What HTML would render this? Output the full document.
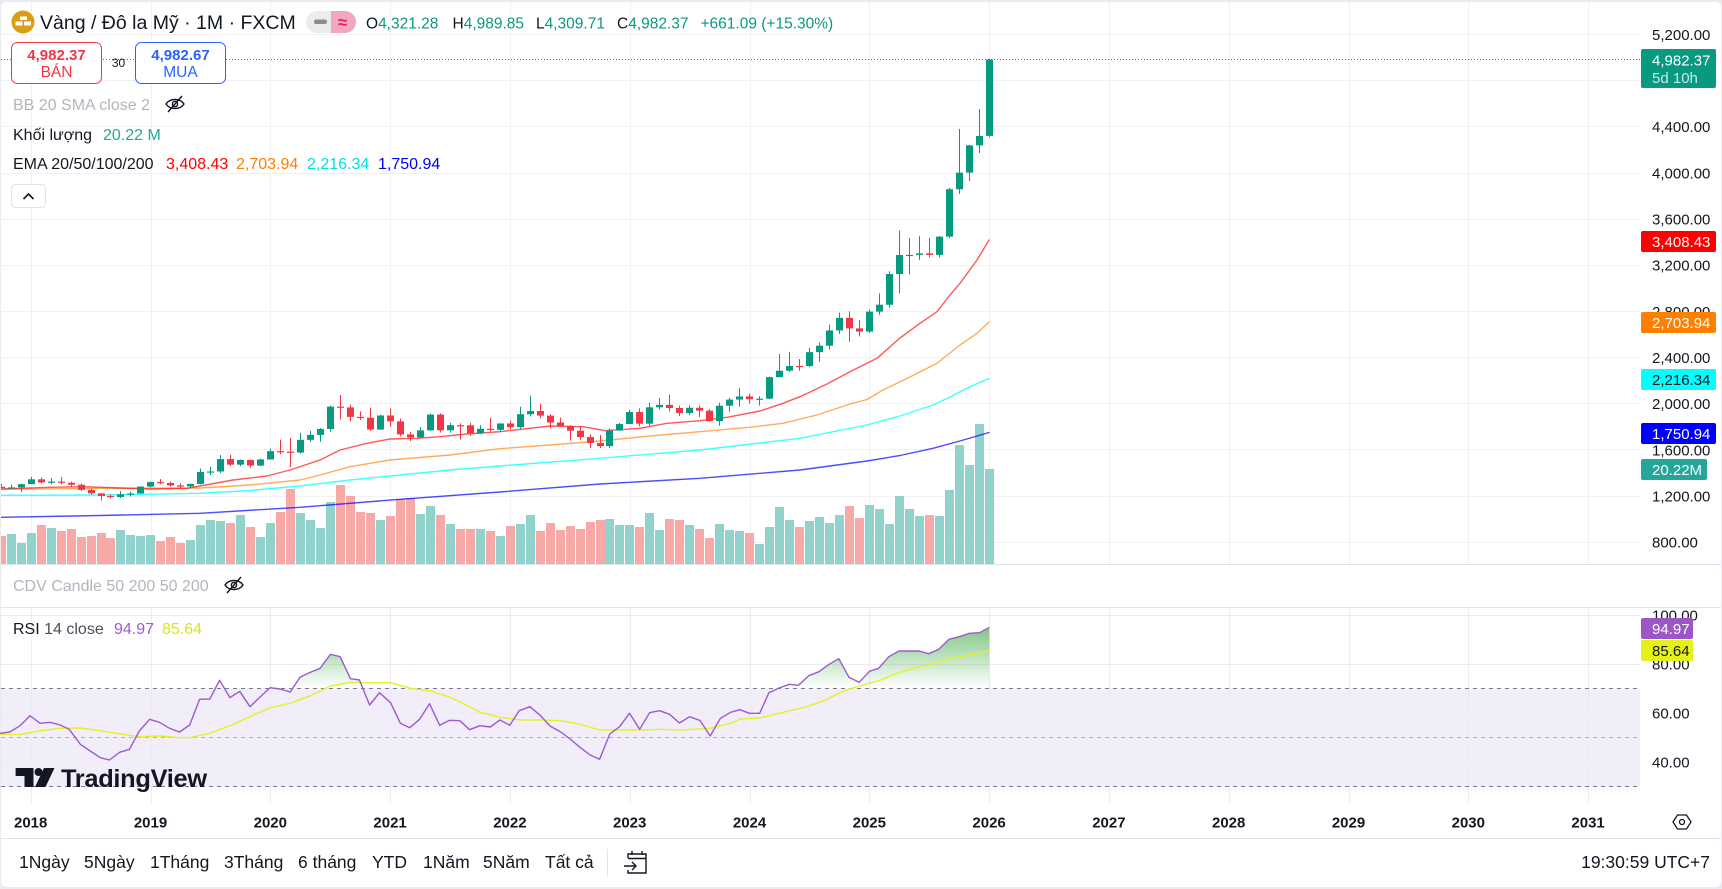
<!DOCTYPE html>
<html><head><meta charset="utf-8">
<style>
html,body{margin:0;padding:0;background:#fff;}
body{width:1722px;height:889px;overflow:hidden;position:relative;}
svg{position:absolute;left:0;top:0;}
text{font-family:"Liberation Sans","DejaVu Sans",sans-serif;}
</style></head><body>
<svg id="c" width="1722" height="889" viewBox="0 0 1722 889" xmlns="http://www.w3.org/2000/svg">
<defs>
 <linearGradient id="gf" gradientUnits="userSpaceOnUse" x1="0" y1="615" x2="0" y2="688.5">
  <stop offset="0" stop-color="#4caf50" stop-opacity="0.85"/>
  <stop offset="1" stop-color="#4caf50" stop-opacity="0"/>
 </linearGradient>
 <clipPath id="above70"><rect x="0" y="600" width="1640" height="88.5"/></clipPath>
 <clipPath id="pp"><rect x="1" y="2" width="1639" height="562"/></clipPath>
</defs>
<rect width="1722" height="889" fill="#e9ebef"/>
<rect x="1" y="2" width="1720" height="885" rx="5" fill="#fff"/>

<!-- price pane grid -->
<g stroke="#f0f1f4" stroke-width="1">
 <line x1="1" x2="1640" y1="34.5" y2="34.5"/><line x1="1" x2="1640" y1="80.5" y2="80.5"/>
 <line x1="1" x2="1640" y1="126.5" y2="126.5"/><line x1="1" x2="1640" y1="173.5" y2="173.5"/>
 <line x1="1" x2="1640" y1="219.5" y2="219.5"/><line x1="1" x2="1640" y1="265.5" y2="265.5"/>
 <line x1="1" x2="1640" y1="311.5" y2="311.5"/><line x1="1" x2="1640" y1="357.5" y2="357.5"/>
 <line x1="1" x2="1640" y1="403.5" y2="403.5"/><line x1="1" x2="1640" y1="449.5" y2="449.5"/>
 <line x1="1" x2="1640" y1="496.5" y2="496.5"/><line x1="1" x2="1640" y1="542.5" y2="542.5"/>
 <g id="vgrid1"></g>
</g>

<!-- volume, EMA, candles -->
<g clip-path="url(#pp)">
 <g id="vol"></g>
 <g fill="none" stroke-width="1.4" stroke-linejoin="round" stroke-linecap="round">
  <polyline stroke="#0000ff" stroke-opacity="0.7" points="0,517.3 100,515.5 200,513.3 300,507.3 400,499.3 500,492 600,484 700,478.3 800,470 867,461 900,455.5 933,448.3 960,441 989,432.5"/>
  <polyline stroke="#00ffff" stroke-opacity="0.75" points="0,495.3 100,495 200,493.3 250,490.5 300,486 350,480 400,475 450,470 500,466 600,458.3 700,450 800,438.3 867,425 900,416 933,405 947,398.5 970,386.7 989,378.5"/>
  <polyline stroke="#ff7f00" stroke-opacity="0.65" points="0,489.3 100,488.3 200,488 250,485 300,480 320,475 350,466.7 390,460 450,455 500,448.7 550,445 600,441 650,436 700,431.7 750,427.3 783,423.3 817,415 850,404 867,399.5 883,390 910,377 937,363.3 960,345 977,333.3 989,322"/>
  <polyline stroke="#ff0000" stroke-opacity="0.65" points="0,489 50,487.3 83,486.7 150,489 187,488.3 200,486 233,480 267,476 290,470 320,460 340,450 367,443.3 390,439 417,438.3 440,436.7 467,434 500,431.7 550,426 583,426.7 605,430.7 640,428.3 667,423.3 700,420.7 727,417.3 760,411 783,403.3 800,396.7 827,384 850,371.7 877,358.3 900,338 920,323.3 937,311.7 950,295 960,283.3 977,260 989,240"/>
 </g>
 <g id="cand"></g>
</g>

<!-- current price dotted line -->
<line x1="1" x2="1640" y1="59.5" y2="59.5" stroke="#089981" stroke-width="1" stroke-dasharray="1 2"/>

<!-- header -->
<circle cx="23" cy="22" r="11.5" fill="#d99e13"/>
<rect x="20" y="16.5" width="7" height="3.5" fill="#fff"/>
<rect x="15.5" y="21.5" width="7" height="4" fill="#fff"/>
<rect x="24" y="21.5" width="7" height="4" fill="#fff"/>
<text x="40" y="29" font-size="19.5" fill="#131722">Vàng / Đô la Mỹ · 1M · FXCM</text>
<rect x="306" y="11" width="50" height="22" rx="11" fill="#ececec"/>
<path d="M331,11 H345 A11,11 0 0 1 345,33 H331 Z" fill="#f2a6c2"/>
<rect x="314" y="19.5" width="13" height="4.5" rx="2" fill="#8a8d95"/>
<text x="342.5" y="28" font-size="17" font-weight="bold" fill="#e0245e" text-anchor="middle">≈</text>
<g font-size="15.5">
 <text x="366" y="28.3" fill="#131722">O<tspan fill="#089981">4,321.28</tspan></text>
 <text x="452.5" y="28.3" fill="#131722">H<tspan fill="#089981">4,989.85</tspan></text>
 <text x="536" y="28.3" fill="#131722">L<tspan fill="#089981">4,309.71</tspan></text>
 <text x="617" y="28.3" fill="#131722">C<tspan fill="#089981">4,982.37</tspan></text>
 <text x="700.5" y="28.3" fill="#089981">+661.09 (+15.30%)</text>
</g>

<!-- sell/buy -->
<rect x="11.5" y="42.5" width="90" height="41" rx="6" fill="#fff" stroke="#f23645" stroke-width="1"/>
<text x="56.5" y="60" font-size="15" font-weight="bold" fill="#f23645" text-anchor="middle">4,982.37</text>
<text x="56.5" y="77" font-size="15.5" fill="#f23645" text-anchor="middle">BÁN</text>
<text x="118.5" y="67" font-size="12" fill="#131722" text-anchor="middle">30</text>
<rect x="135.5" y="42.5" width="90" height="41" rx="6" fill="#fff" stroke="#2962ff" stroke-width="1"/>
<text x="180.5" y="60" font-size="15" font-weight="bold" fill="#2962ff" text-anchor="middle">4,982.67</text>
<text x="180.5" y="77" font-size="15.5" fill="#2962ff" text-anchor="middle">MUA</text>

<!-- legend -->
<g font-size="16">
 <text x="13" y="110" fill="#b2b5be">BB 20 SMA close 2</text>
 <text x="13" y="140" fill="#131722">Khối lượng</text>
 <text x="103" y="140" fill="#22ab94">20.22 M</text>
 <text x="13" y="169" fill="#131722">EMA 20/50/100/200</text>
 <text x="166" y="169" fill="#ff0000">3,408.43</text>
 <text x="236" y="169" fill="#ff7f00">2,703.94</text>
 <text x="307" y="169" fill="#00e0e0">2,216.34</text>
 <text x="378" y="169" fill="#0000ff">1,750.94</text>
</g>
<g transform="translate(175,104)" fill="none" stroke="#131722" stroke-width="1.4">
 <path d="M-9,0 C-5,-6 5,-6 9,0 C5,6 -5,6 -9,0Z"/><circle r="2.6"/><line x1="-7" y1="8" x2="7" y2="-8"/>
</g>
<rect x="11.5" y="184.5" width="34" height="23" rx="4" fill="#fff" stroke="#e0e3eb"/>
<path d="M23.5,199 L28.5,194 L33.5,199" fill="none" stroke="#131722" stroke-width="1.6"/>

<!-- price axis -->
<g font-size="15" fill="#131722">
 <text x="1652" y="39.9">5,200.00</text>
 <text x="1652" y="86">4,800.00</text>
 <text x="1652" y="132.2">4,400.00</text>
 <text x="1652" y="178.4">4,000.00</text>
 <text x="1652" y="224.5">3,600.00</text>
 <text x="1652" y="270.7">3,200.00</text>
 <text x="1652" y="316.8">2,800.00</text>
 <text x="1652" y="363">2,400.00</text>
 <text x="1652" y="409.1">2,000.00</text>
 <text x="1652" y="455.3">1,600.00</text>
 <text x="1652" y="501.4">1,200.00</text>
 <text x="1652" y="547.6">800.00</text>
</g>
<rect x="1641" y="49" width="75" height="39" rx="2" fill="#089981"/>
<text x="1652" y="65.5" font-size="15" fill="#fff">4,982.37</text>
<text x="1652" y="83" font-size="15" fill="#c9ece6">5d 10h</text>
<rect x="1641" y="231" width="75" height="21" rx="2" fill="#ff0000"/>
<text x="1652" y="246.9" font-size="15" fill="#fff">3,408.43</text>
<rect x="1641" y="312" width="75" height="21" rx="2" fill="#ff7f00"/>
<text x="1652" y="327.9" font-size="15" fill="#fff">2,703.94</text>
<rect x="1641" y="369" width="75" height="21" rx="2" fill="#00ffff"/>
<text x="1652" y="384.9" font-size="15" fill="#131722">2,216.34</text>
<rect x="1641" y="423" width="75" height="21" rx="2" fill="#0000ff"/>
<text x="1652" y="438.9" font-size="15" fill="#fff">1,750.94</text>
<rect x="1641" y="459" width="66" height="21" rx="2" fill="#26a69a"/>
<text x="1652" y="474.9" font-size="15" fill="#fff">20.22M</text>

<!-- pane separators -->
<g stroke="#e0e3eb" stroke-width="1">
 <line x1="1" x2="1721" y1="564.5" y2="564.5"/>
 <line x1="1" x2="1721" y1="607.5" y2="607.5"/>
 <line x1="1" x2="1721" y1="838.5" y2="838.5"/>
</g>

<!-- CDV pane -->
<text x="13" y="591" font-size="16" fill="#b2b5be">CDV Candle 50 200 50 200</text>
<g transform="translate(234,585)" fill="none" stroke="#131722" stroke-width="1.4">
 <path d="M-9,0 C-5,-6 5,-6 9,0 C5,6 -5,6 -9,0Z"/><circle r="2.6"/><line x1="-7" y1="8" x2="7" y2="-8"/>
</g>

<!-- RSI pane -->
<rect x="1" y="688.5" width="1639" height="98" fill="#f2eef9"/>
<g stroke="#eceaf2" stroke-width="1">
 <line x1="1" x2="1640" y1="615.5" y2="615.5"/>
 <line x1="1" x2="1640" y1="664.5" y2="664.5"/>
 <line x1="1" x2="1640" y1="713.5" y2="713.5"/>
 <line x1="1" x2="1640" y1="762.5" y2="762.5"/>
 <g id="vgrid2"></g>
</g>
<line x1="1" x2="1640" y1="688.5" y2="688.5" stroke="#787b86" stroke-dasharray="4 4"/>
<line x1="1" x2="1640" y1="737.5" y2="737.5" stroke="#b2b5be" stroke-dasharray="4 4"/>
<line x1="1" x2="1640" y1="786.5" y2="786.5" stroke="#787b86" stroke-dasharray="4 4"/>

<polygon clip-path="url(#above70)" fill="url(#gf)" points="0,688.5 0,733.3 9.8,732 20.1,725.7 29.9,715.7 40.2,723.3 50,722.3 60.3,725 69.2,729.3 80.4,744.3 90.2,751 100.4,757.7 109.4,760 119.6,752.3 129.5,749.3 139.3,731 149.6,719.3 159.4,722.3 169.6,728.3 179.5,732 189.7,725 199.6,699.3 209.8,699 219.6,680.3 229.9,697.7 239.7,691.3 250,706.7 259.8,697.3 270.1,687.7 279.9,689 290.2,692 300,677.3 310.3,672.3 320.1,668.3 330.4,654.3 340.2,656.7 350.4,678.7 359.4,680 369.6,705 379.5,692.7 390.6,702.7 400.4,723.3 409.8,727.7 419.6,719.3 429.5,703.7 439.7,725.3 449.6,720.3 459.8,720.7 469.6,729.7 479.9,725.7 490.2,727 500,720 509.8,725.3 519.2,710.7 529.9,706.7 540.2,715.3 550,726 560.3,731.7 570.1,739 580.4,747.7 590.2,755 599.6,759.3 609.8,734 619.6,726.7 629.5,713.3 639.7,729.3 649.6,712.7 659.4,710.7 669.6,714.3 679.5,723 689.7,716.7 700,720.5 710.2,736 720.4,718.3 730.6,712.3 739.8,709.7 749.5,713.3 759.7,713.3 768.9,692.7 779.1,688 789.3,684.3 798.5,685.3 808.7,675.7 818.9,671.7 829.1,664.3 838.8,658.7 849,677.3 859.2,682.3 869.4,671.3 878.6,668.3 888.8,656.7 899,651 909.2,651 919.4,651 928.6,653.7 938.8,649.3 949,639.3 959.2,636.7 969.4,633.3 979.6,632.7 989.3,627.3 989.3,688.5"/>

<polyline fill="none" stroke="#e3f02a" stroke-width="1.4" stroke-linejoin="round" points="0,734.3 20.1,734.7 40.2,730.7 60.3,728.3 80.4,728 100.4,730.7 120.5,734 139.3,736.7 159.4,736 179.5,737.7 189.7,737.7 209.8,733.3 229.9,725.7 250,716.7 270.1,707.7 290.2,703.3 310.3,695.7 330.4,686 350.4,682.3 370.5,682.7 390.6,682.7 410.7,688.3 430.8,691 450.9,697.7 469.6,706.7 479.9,712.3 500,717.3 520.1,720 540.2,720 560.3,720.7 580.4,724.3 599.6,730 619.6,730 639.7,730 659.4,729.3 679.5,730 700,729 710.2,728.3 720.4,725.7 730.6,723.3 739.8,719.3 749.5,718.3 759.7,718 768.9,716 779.1,713.3 789.3,710.7 799.5,708.7 808.7,706 818.9,702.7 829.1,698.3 838.8,693.3 849,689.3 859.2,686 869.4,683.3 878.6,680.7 888.8,676.7 899,672.7 909.2,669.3 919.4,666.7 928.6,665 938.8,661.7 949,659.3 959.2,656.7 969.4,655 979.6,653.3 989.3,650"/>
<polyline fill="none" stroke="#9c5ad0" stroke-width="1.4" stroke-linejoin="round" points="0,733.3 9.8,732 20.1,725.7 29.9,715.7 40.2,723.3 50,722.3 60.3,725 69.2,729.3 80.4,744.3 90.2,751 100.4,757.7 109.4,760 119.6,752.3 129.5,749.3 139.3,731 149.6,719.3 159.4,722.3 169.6,728.3 179.5,732 189.7,725 199.6,699.3 209.8,699 219.6,680.3 229.9,697.7 239.7,691.3 250,706.7 259.8,697.3 270.1,687.7 279.9,689 290.2,692 300,677.3 310.3,672.3 320.1,668.3 330.4,654.3 340.2,656.7 350.4,678.7 359.4,680 369.6,705 379.5,692.7 390.6,702.7 400.4,723.3 409.8,727.7 419.6,719.3 429.5,703.7 439.7,725.3 449.6,720.3 459.8,720.7 469.6,729.7 479.9,725.7 490.2,727 500,720 509.8,725.3 519.2,710.7 529.9,706.7 540.2,715.3 550,726 560.3,731.7 570.1,739 580.4,747.7 590.2,755 599.6,759.3 609.8,734 619.6,726.7 629.5,713.3 639.7,729.3 649.6,712.7 659.4,710.7 669.6,714.3 679.5,723 689.7,716.7 700,720.5 710.2,736 720.4,718.3 730.6,712.3 739.8,709.7 749.5,713.3 759.7,713.3 768.9,692.7 779.1,688 789.3,684.3 798.5,685.3 808.7,675.7 818.9,671.7 829.1,664.3 838.8,658.7 849,677.3 859.2,682.3 869.4,671.3 878.6,668.3 888.8,656.7 899,651 909.2,651 919.4,651 928.6,653.7 938.8,649.3 949,639.3 959.2,636.7 969.4,633.3 979.6,632.7 989.3,627.3"/>

<text x="13" y="634" font-size="16" fill="#131722">RSI <tspan fill="#4a4e59">14 close</tspan></text>
<text x="114" y="634" font-size="16" fill="#9c5ad0">94.97</text>
<text x="162" y="634" font-size="16" fill="#d9e61c">85.64</text>

<!-- TradingView logo -->
<path d="M15.6,768 H33.5 V787 H24.5 V776 H15.6 Z" fill="#131722"/>
<circle cx="38.5" cy="772" r="4" fill="#131722"/>
<path d="M44,768 H54.5 L45.5,787 H35 Z" fill="#131722"/>
<text x="61" y="787" font-size="25.4" font-weight="bold" fill="#131722" letter-spacing="-0.3">TradingView</text>

<!-- RSI axis -->
<g font-size="15" fill="#131722">
 <text x="1652" y="620.4">100.00</text>
 <text x="1652" y="669.4">80.00</text>
 <text x="1652" y="718.4">60.00</text>
 <text x="1652" y="767.4">40.00</text>
</g>
<rect x="1641" y="618" width="52" height="21" rx="2" fill="#9c56c8"/>
<text x="1652" y="633.9" font-size="15" fill="#fff">94.97</text>
<rect x="1641" y="640" width="52" height="21" rx="2" fill="#e5f21a"/>
<text x="1652" y="655.9" font-size="15" fill="#131722">85.64</text>

<!-- time axis -->
<g font-size="15" font-weight="bold" fill="#131722" text-anchor="middle">
 <text x="30.7" y="827.4">2018</text><text x="150.5" y="827.4">2019</text>
 <text x="270.3" y="827.4">2020</text><text x="390.1" y="827.4">2021</text>
 <text x="509.9" y="827.4">2022</text><text x="629.7" y="827.4">2023</text>
 <text x="749.5" y="827.4">2024</text><text x="869.3" y="827.4">2025</text>
 <text x="989.1" y="827.4">2026</text><text x="1108.9" y="827.4">2027</text>
 <text x="1228.7" y="827.4">2028</text><text x="1348.5" y="827.4">2029</text>
 <text x="1468.3" y="827.4">2030</text><text x="1588.1" y="827.4">2031</text>
</g>
<polygon points="1673,822 1677.5,815 1686.5,815 1691,822 1686.5,829 1677.5,829" fill="none" stroke="#131722" stroke-width="1.3"/>
<circle cx="1682" cy="822" r="2.5" fill="none" stroke="#131722" stroke-width="1.3"/>

<!-- bottom toolbar -->
<g font-size="17.5" fill="#131722">
 <text x="19" y="868">1Ngày</text>
 <text x="84" y="868">5Ngày</text>
 <text x="150" y="868">1Tháng</text>
 <text x="224" y="868">3Tháng</text>
 <text x="298" y="868">6 tháng</text>
 <text x="372" y="868">YTD</text>
 <text x="423" y="868">1Năm</text>
 <text x="483" y="868">5Năm</text>
 <text x="545" y="868">Tất cả</text>
 <text x="1710" y="868" text-anchor="end">19:30:59 UTC+7</text>
</g>
<line x1="607.5" x2="607.5" y1="849" y2="876" stroke="#e0e3eb"/>
<g fill="none" stroke="#131722" stroke-width="1.4">
 <path d="M628,858 V854 H646 V873 H628 V870"/>
 <line x1="628" x2="646" y1="858.5" y2="858.5"/>
 <line x1="632" x2="632" y1="851" y2="855"/>
 <line x1="642" x2="642" y1="851" y2="855"/>
 <path d="M624,866 H636 M632,862 L636,866 L632,870"/>
</g>
</svg>
<script>
(function(){
var ns="http://www.w3.org/2000/svg";
var D=[
[1280,1306,1260,1271],[1271,1299,1264,1275],[1275,1307,1236,1303],
[1303,1366,1302,1345],[1345,1361,1307,1318],[1318,1356,1303,1325],[1325,1366,1302,1315],[1315,1326,1282,1298],[1298,1309,1245,1253],[1253,1265,1211,1223],[1223,1224,1160,1201],[1201,1214,1180,1192],[1192,1243,1183,1215],[1215,1237,1196,1222],[1222,1284,1221,1282],
[1282,1326,1275,1321],[1321,1347,1303,1313],[1313,1324,1280,1292],[1292,1310,1266,1284],[1284,1306,1267,1305],[1305,1439,1300,1409],[1409,1453,1382,1413],[1413,1555,1400,1520],[1520,1557,1459,1472],[1472,1517,1459,1513],[1513,1516,1445,1464],[1464,1524,1458,1517],
[1517,1611,1517,1589],[1589,1689,1563,1585],[1585,1704,1451,1577],[1577,1747,1568,1687],[1687,1765,1670,1730],[1730,1789,1671,1781],[1781,1984,1757,1975],[1975,2075,1863,1968],[1968,1992,1849,1886],[1886,1933,1860,1879],[1879,1966,1765,1776],[1776,1906,1775,1898],
[1898,1959,1802,1847],[1847,1872,1717,1734],[1734,1755,1677,1708],[1708,1798,1705,1769],[1769,1913,1766,1906],[1906,1916,1750,1770],[1770,1834,1750,1814],[1814,1831,1688,1813],[1813,1834,1721,1743],[1743,1814,1736,1783],[1783,1877,1759,1774],[1774,1830,1753,1829],
[1829,1854,1780,1797],[1797,1974,1782,1909],[1909,2070,1890,1937],[1937,1998,1872,1897],[1897,1910,1787,1837],[1837,1879,1805,1807],[1807,1814,1681,1766],[1766,1808,1688,1711],[1711,1735,1615,1660],[1660,1730,1617,1633],[1633,1786,1616,1768],[1768,1833,1765,1824],
[1824,1949,1823,1928],[1928,1960,1804,1827],[1827,2009,1810,1969],[1969,2049,1950,1990],[1990,2079,1932,1963],[1963,1984,1893,1919],[1919,1987,1902,1965],[1965,1987,1885,1940],[1940,1953,1846,1849],[1849,2009,1810,1983],[1983,2052,1931,2036],[2036,2135,1973,2063],
[2063,2088,2002,2039],[2039,2065,1984,2044],[2044,2236,2039,2230],[2230,2431,2229,2286],[2286,2450,2277,2327],[2327,2387,2286,2326],[2326,2483,2318,2447],[2447,2531,2364,2503],[2503,2685,2471,2635],[2635,2790,2604,2744],[2744,2801,2536,2653],[2653,2726,2583,2625],
[2625,2817,2614,2798],[2798,2956,2772,2858],[2858,3148,2833,3124],[3124,3500,2957,3289],[3289,3435,3121,3290],[3290,3452,3247,3303],[3303,3439,3268,3290],[3290,3454,3268,3448],[3448,3871,3436,3859],[3859,4381,3818,4003],[4003,4245,3931,4239],[4239,4554,4173,4321],
[4321.28,4989.85,4309.71,4982.37]];
var V=[28,30,21,
31,39,36,33,35,27,28,31,26,34,29,28,
29,23,27,21,24,39,44,43,41,49,37,27,
41,52,75,51,44,36,62,79,68,52,51,44,
48,65,66,50,58,49,40,35,35,35,33,28,
38,40,49,33,41,34,38,35,42,44,45,39,
39,37,51,34,45,44,39,35,26,40,34,33,
31,20,37,57,44,37,43,47,41,49,58,46,
59,55,40,68,55,48,49,48,74,119,99,140,
95];
function Y(p){return 34.5+(5200-p)*0.1153846;}
function r(g,x,y,w,h,c){var e=document.createElementNS(ns,'rect');e.setAttribute('x',x);e.setAttribute('y',y);e.setAttribute('width',w);e.setAttribute('height',h);e.setAttribute('fill',c);g.appendChild(e);}
var gc=document.getElementById('cand'),gv=document.getElementById('vol');
for(var i=0;i<D.length;i++){
 var d=D[i],cx=Math.round(0.7+9.98*i),up=d[3]>=d[0];
 var col=up?'#089981':'#f23645';
 var h=V[i];
 r(gv,cx-4,564-h,9,h,up?'#92d2cc':'#f7a9a7');
 var yh=Y(d[1]),yl=Y(d[2]);
 r(gc,cx,yh,1,Math.max(1,yl-yh),col);
 var yt=Y(Math.max(d[0],d[3])),yb=Y(Math.min(d[0],d[3]));
 if(yb-yt<1.2){yb=yt+1.2;}
 r(gc,cx-3,yt,7,yb-yt,col);
}
var v1=document.getElementById('vgrid1'),v2=document.getElementById('vgrid2');
for(var k=0;k<14;k++){
 var x=Math.round(30.7+119.8*k)+0.5;
 var l=document.createElementNS(ns,'line');l.setAttribute('x1',x);l.setAttribute('x2',x);l.setAttribute('y1',2);l.setAttribute('y2',564);v1.appendChild(l);
 var m=document.createElementNS(ns,'line');m.setAttribute('x1',x);m.setAttribute('x2',x);m.setAttribute('y1',608);m.setAttribute('y2',803);v2.appendChild(m);
}
})();
</script>
</body></html>
